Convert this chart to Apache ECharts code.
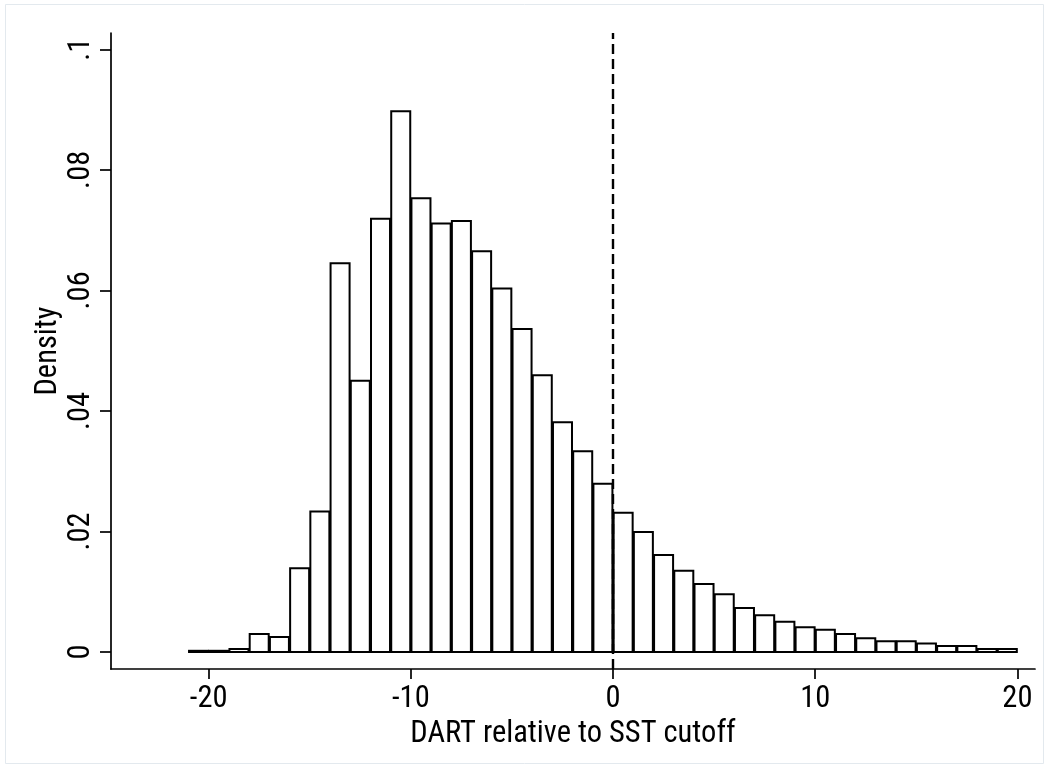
<!DOCTYPE html>
<html>
<head>
<meta charset="utf-8">
<script src="https://cdn.jsdelivr.net/npm/echarts@6/dist/echarts.min.js"></script>
<style>
html,body{margin:0;padding:0;background:#fff;}
#chart{width:1049px;height:769px;}
</style>
</head>
<body>
<div id="chart"></div>
<script>
// Histogram bins: left edges, width 1
const binLefts = [-21,-20,-19,-18,-17,-16,-15,-14,-13,-12,-11,-10,-9,-8,-7,-6,-5,-4,-3,-2,-1,0,1,2,3,4,5,6,7,8,9,10,11,12,13,14,15,16,17,18,19];
const binWidth = 1;
const density = [0.0002,0.0002,0.0005,0.0030,0.0025,0.0139,0.0233,0.0645,0.0450,0.0719,0.0897,0.0753,0.0711,0.0715,0.0665,0.0603,0.0536,0.0459,0.0381,0.0333,0.0279,0.0231,0.0199,0.0161,0.0135,0.0113,0.0096,0.0073,0.0061,0.0050,0.0041,0.0037,0.0030,0.0023,0.0018,0.0018,0.0014,0.0010,0.0010,0.0005,0.0005];
const xTicks = [-20,-10,0,10,20];
const yTicks = [0,0.02,0.04,0.06,0.08,0.1];
const yTickLabels = ['0','.02','.04','.06','.08','.1'];
const cutoff = 0;
const xTitle = 'DART relative to SST cutoff';
const yTitle = 'Density';

const FONT = "'Liberation Sans Narrow','Arial Narrow','Roboto Condensed','Liberation Sans',Arial,sans-serif";
const FS = 30.5;

const chart = echarts.init(document.getElementById('chart'), null, {renderer:'canvas'});
const data = binLefts.map((l,i)=>[l, l+binWidth, density[i]]);

chart.setOption({
  animation:false,
  backgroundColor:'#fff',
  graphic:[{type:'rect',shape:{x:5.5,y:4.5,width:1038,height:759},style:{fill:'none',stroke:'#e3e9ee',lineWidth:1},silent:true,z:-1}],
  grid:{left:111,right:14,top:33,bottom:100,containLabel:false},
  xAxis:{
    type:'value', min:-24.83, max:20.87,
    name:xTitle, nameLocation:'middle', nameGap:50, nameMoveOverlap:false,
    nameTextStyle:{fontFamily:FONT,fontSize:FS,color:'#000'},
    axisLine:{show:true,onZero:false,lineStyle:{color:'#000',width:1.7}},
    axisTick:{show:true,length:10,lineStyle:{color:'#000',width:1.7},customValues:xTicks},
    axisLabel:{show:true,margin:15,fontFamily:FONT,fontSize:FS,color:'#000',customValues:xTicks,showMinLabel:true,showMaxLabel:true},
    splitLine:{show:false}
  },
  yAxis:{
    type:'value', min:-0.00282, max:0.1027,
    name:yTitle, nameLocation:'middle', nameGap:47, nameRotate:90, nameMoveOverlap:false,
    nameTextStyle:{fontFamily:FONT,fontSize:FS,color:'#000'},
    axisLine:{show:true,onZero:false,lineStyle:{color:'#000',width:1.7}},
    axisTick:{show:true,length:11,lineStyle:{color:'#000',width:1.7},customValues:yTicks},
    axisLabel:{show:true,rotate:90,margin:14,fontFamily:FONT,fontSize:FS,color:'#000',customValues:yTicks,
      formatter:function(v){const i=yTicks.findIndex(t=>Math.abs(t-v)<1e-9);return i>=0?yTickLabels[i]:'';}},
    splitLine:{show:false}
  },
  series:[{
    type:'custom',
    data:data,
    encode:{x:[0,1],y:2},
    renderItem:function(params,api){
      const lo=api.value(0), hi=api.value(1), v=api.value(2);
      const p0=api.coord([lo,v]);
      const p1=api.coord([hi,0]);
      return {type:'rect',shape:{x:p0[0]+0.6,y:p0[1],width:p1[0]-p0[0]-1.2,height:p1[1]-p0[1]},
        style:{fill:'#fff',stroke:'#000',lineWidth:2}};
    },
    markLine:{
      silent:true, symbol:'none', label:{show:false},
      lineStyle:{color:'#000',type:[10,5],width:2.4},
      data:[{xAxis:cutoff}]
    },
    z:2
  }]
});
</script>
</body>
</html>
